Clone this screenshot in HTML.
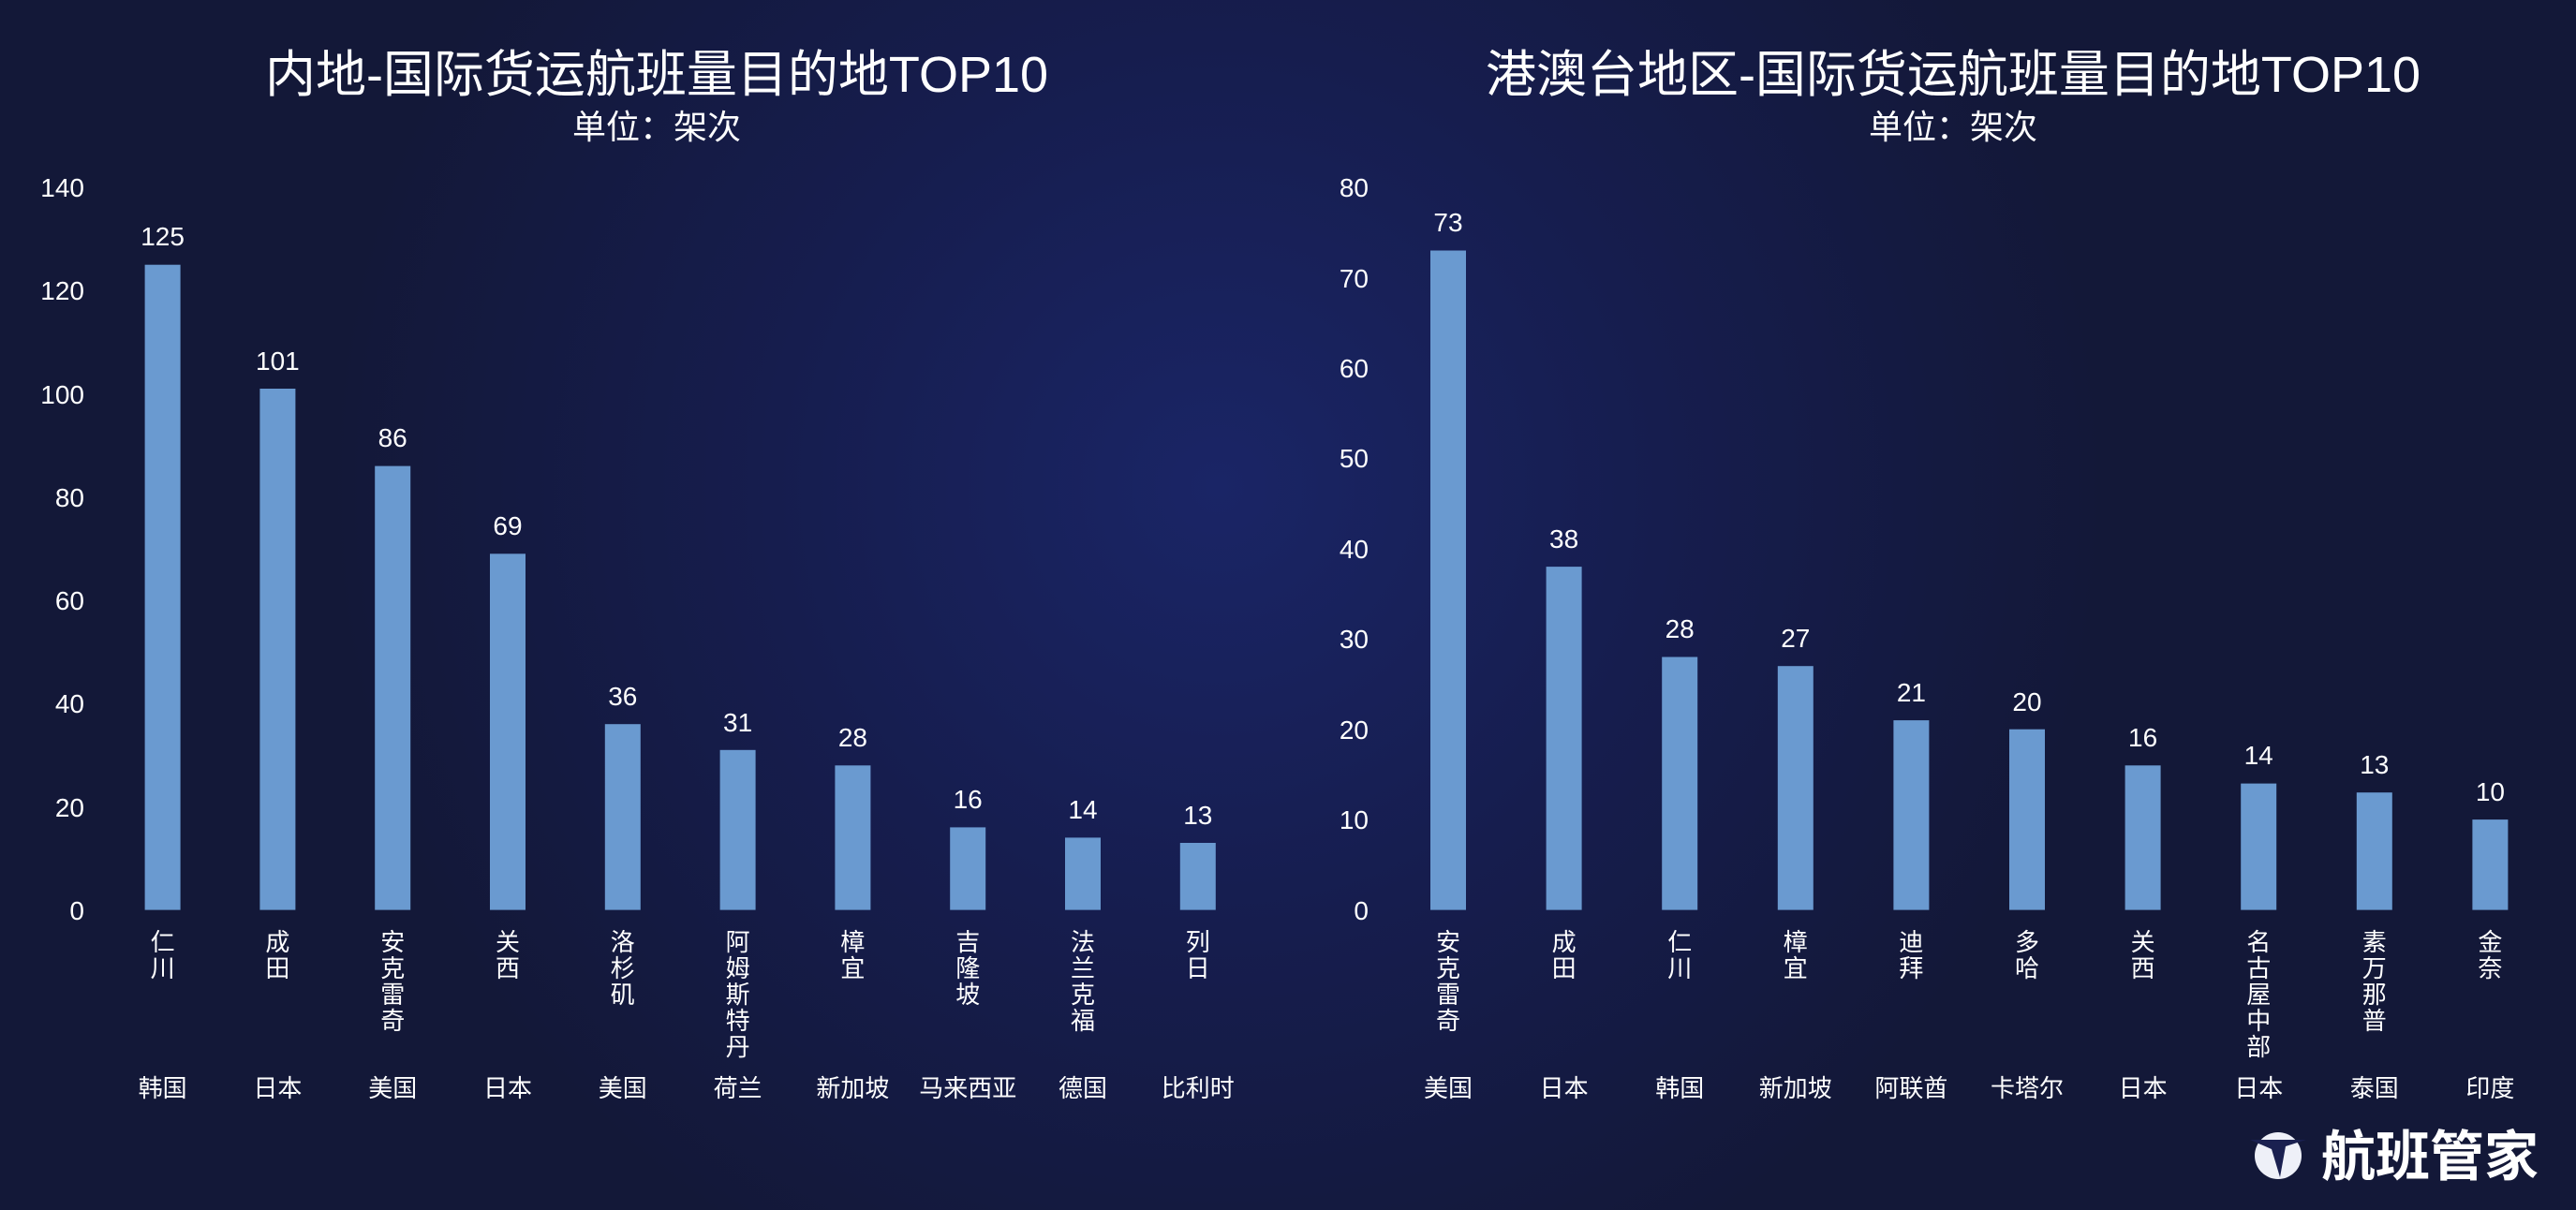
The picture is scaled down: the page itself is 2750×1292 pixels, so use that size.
<!DOCTYPE html>
<html><head><meta charset="utf-8"><style>
html,body{margin:0;padding:0;background:#141a40;}
svg{display:block;}
text{font-family:"Liberation Sans","Noto Sans CJK SC",sans-serif;fill:#fff;}
</style></head><body>
<svg width="2750" height="1292" viewBox="0 0 2750 1292" xmlns="http://www.w3.org/2000/svg">
<defs>
<radialGradient id="g" cx="1300" cy="520" r="950" gradientUnits="userSpaceOnUse">
<stop offset="0" stop-color="#1a2566"/><stop offset="0.5" stop-color="#161d4e"/><stop offset="1" stop-color="#131838"/>
</radialGradient>
</defs>
<rect width="2750" height="1292" fill="url(#g)"/>
<g font-size="54" text-anchor="middle">
<text x="701" y="98">内地-国际货运航班量目的地TOP10</text>
<text x="2085" y="98">港澳台地区-国际货运航班量目的地TOP10</text>
</g>
<g font-size="36" text-anchor="middle">
<text x="701" y="148">单位：架次</text>
<text x="2085" y="148">单位：架次</text>
</g>
<g font-size="28" text-anchor="end">
<text x="90" y="982">0</text><text x="90" y="872">20</text><text x="90" y="761">40</text><text x="90" y="651">60</text><text x="90" y="541">80</text><text x="90" y="431">100</text><text x="90" y="320">120</text><text x="90" y="210">140</text>
<text x="1461" y="982">0</text><text x="1461" y="885">10</text><text x="1461" y="789">20</text><text x="1461" y="692">30</text><text x="1461" y="596">40</text><text x="1461" y="499">50</text><text x="1461" y="403">60</text><text x="1461" y="307">70</text><text x="1461" y="210">80</text>
</g>
<g fill="#6a9ad0">
<rect x="154.6" y="282.7" width="38" height="688.9"/>
<rect x="277.4" y="415" width="38" height="556.6"/>
<rect x="400.2" y="497.6" width="38" height="474"/>
<rect x="523" y="591.3" width="38" height="380.3"/>
<rect x="645.8" y="773.2" width="38" height="198.4"/>
<rect x="768.6" y="800.8" width="38" height="170.8"/>
<rect x="891.4" y="817.3" width="38" height="154.3"/>
<rect x="1014.2" y="883.4" width="38" height="88.2"/>
<rect x="1137" y="894.4" width="38" height="77.2"/>
<rect x="1259.8" y="900" width="38" height="71.6"/>
<rect x="1527" y="267.5" width="38" height="704.1"/>
<rect x="1650.6" y="605.1" width="38" height="366.5"/>
<rect x="1774.2" y="701.5" width="38" height="270.1"/>
<rect x="1897.8" y="711.2" width="38" height="260.4"/>
<rect x="2021.4" y="769.1" width="38" height="202.5"/>
<rect x="2145" y="778.7" width="38" height="192.9"/>
<rect x="2268.6" y="817.3" width="38" height="154.3"/>
<rect x="2392.2" y="836.6" width="38" height="135"/>
<rect x="2515.8" y="846.2" width="38" height="125.4"/>
<rect x="2639.4" y="875.1" width="38" height="96.5"/>
</g>
<g font-size="28" text-anchor="middle">
<text x="173.6" y="262">125</text><text x="296.4" y="395">101</text><text x="419.2" y="477">86</text><text x="542" y="571">69</text><text x="664.8" y="753">36</text><text x="787.6" y="781">31</text><text x="910.4" y="797">28</text><text x="1033.2" y="863">16</text><text x="1156" y="874">14</text><text x="1278.8" y="880">13</text>
<text x="1546" y="247">73</text><text x="1669.6" y="585">38</text><text x="1793.2" y="681">28</text><text x="1916.8" y="691">27</text><text x="2040.4" y="749">21</text><text x="2164" y="759">20</text><text x="2287.6" y="797">16</text><text x="2411.2" y="816">14</text><text x="2534.8" y="826">13</text><text x="2658.4" y="855">10</text>
</g>
<g font-size="26" text-anchor="middle">
<text x="173.6" y="1015">仁</text><text x="173.6" y="1043">川</text>
<text x="296.4" y="1015">成</text><text x="296.4" y="1043">田</text>
<text x="419.2" y="1015">安</text><text x="419.2" y="1043">克</text><text x="419.2" y="1071">雷</text><text x="419.2" y="1099">奇</text>
<text x="542" y="1015">关</text><text x="542" y="1043">西</text>
<text x="664.8" y="1015">洛</text><text x="664.8" y="1043">杉</text><text x="664.8" y="1071">矶</text>
<text x="787.6" y="1015">阿</text><text x="787.6" y="1043">姆</text><text x="787.6" y="1071">斯</text><text x="787.6" y="1099">特</text><text x="787.6" y="1127">丹</text>
<text x="910.4" y="1015">樟</text><text x="910.4" y="1043">宜</text>
<text x="1033.2" y="1015">吉</text><text x="1033.2" y="1043">隆</text><text x="1033.2" y="1071">坡</text>
<text x="1156" y="1015">法</text><text x="1156" y="1043">兰</text><text x="1156" y="1071">克</text><text x="1156" y="1099">福</text>
<text x="1278.8" y="1015">列</text><text x="1278.8" y="1043">日</text>
<text x="1546" y="1015">安</text><text x="1546" y="1043">克</text><text x="1546" y="1071">雷</text><text x="1546" y="1099">奇</text>
<text x="1669.6" y="1015">成</text><text x="1669.6" y="1043">田</text>
<text x="1793.2" y="1015">仁</text><text x="1793.2" y="1043">川</text>
<text x="1916.8" y="1015">樟</text><text x="1916.8" y="1043">宜</text>
<text x="2040.4" y="1015">迪</text><text x="2040.4" y="1043">拜</text>
<text x="2164" y="1015">多</text><text x="2164" y="1043">哈</text>
<text x="2287.6" y="1015">关</text><text x="2287.6" y="1043">西</text>
<text x="2411.2" y="1015">名</text><text x="2411.2" y="1043">古</text><text x="2411.2" y="1071">屋</text><text x="2411.2" y="1099">中</text><text x="2411.2" y="1127">部</text>
<text x="2534.8" y="1015">素</text><text x="2534.8" y="1043">万</text><text x="2534.8" y="1071">那</text><text x="2534.8" y="1099">普</text>
<text x="2658.4" y="1015">金</text><text x="2658.4" y="1043">奈</text>
</g>
<g font-size="26" text-anchor="middle">
<text x="173.6" y="1171">韩国</text><text x="296.4" y="1171">日本</text><text x="419.2" y="1171">美国</text><text x="542" y="1171">日本</text><text x="664.8" y="1171">美国</text><text x="787.6" y="1171">荷兰</text><text x="910.4" y="1171">新加坡</text><text x="1033.2" y="1171">马来西亚</text><text x="1156" y="1171">德国</text><text x="1278.8" y="1171">比利时</text>
<text x="1546" y="1171">美国</text><text x="1669.6" y="1171">日本</text><text x="1793.2" y="1171">韩国</text><text x="1916.8" y="1171">新加坡</text><text x="2040.4" y="1171">阿联酋</text><text x="2164" y="1171">卡塔尔</text><text x="2287.6" y="1171">日本</text><text x="2411.2" y="1171">日本</text><text x="2534.8" y="1171">泰国</text><text x="2658.4" y="1171">印度</text>
</g>
<circle cx="2432" cy="1234" r="25" fill="#eef0f8"/>
<path d="M2402 1217 L2462 1217 L2440 1224 L2434 1257 L2425 1227 Z" fill="#1a2050"/>
<text x="2478" y="1255" font-size="58" font-weight="bold">航班管家</text>
</svg>
</body></html>
